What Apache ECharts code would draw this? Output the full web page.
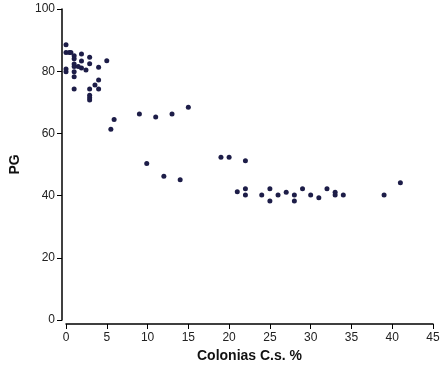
<!DOCTYPE html>
<html>
<head>
<meta charset="utf-8">
<script src="https://cdn.jsdelivr.net/npm/echarts@6/dist/echarts.min.js"></script>
<style>
  html, body { margin: 0; padding: 0; background: #fff; }
  #chart { width: 443px; height: 365px; }
</style>
</head>
<body>
<div id="chart"></div>
<script>
// colonias C.s. % (x) vs PG (y)
var colonias = [
    0, 0, 0.4, 0.6, 1, 1, 1.9, 2.9, 5, 1.9, 2.9, 1, 1, 0, 0, 1.5, 1.9, 2.45,
    1, 1, 4, 4, 3.55, 4, 2.9, 2.9, 2.9, 2.9, 1, 5.9, 5.5,
    9, 11, 13, 15, 9.9, 12, 14,
    19, 20, 22, 21, 22, 22, 24, 25, 25, 26, 27, 28, 28, 29, 30, 31, 32, 33, 33, 34, 39, 41
];
var pg = [
    88.5, 86, 86, 86, 85, 84, 85.5, 84.5, 83.4, 83.3, 82.4, 82.3, 81.5, 80.7, 79.8, 81.5, 81, 80.4,
    79.8, 78.2, 81.3, 77.2, 75.6, 74.3, 74.3, 72.3, 71.5, 70.7, 74.3, 64.5, 61.3,
    66.2, 65.3, 66.2, 68.4, 50.3, 46.2, 45.1,
    52.3, 52.3, 51.2, 41.2, 42.2, 40.2, 40.2, 42.2, 38.3, 40.2, 41.1, 40.2, 38.3, 42.2, 40.2, 39.3, 42.2, 41.1, 40.2, 40.2, 40.2, 44.1
];

var points = [];
for (var i = 0; i < colonias.length; i++) {
    points.push([colonias[i], pg[i]]);
}

var chartDom = document.getElementById('chart');
var myChart = echarts.init(chartDom);
var font = 'Liberation Sans, Arial, sans-serif';

var option = {
    animation: false,
    grid: { left: 66, right: 10, top: 9, bottom: 45, containLabel: false, outerBoundsMode: 'none' },
    xAxis: {
        type: 'value',
        min: 0,
        max: 45,
        interval: 5,
        offset: 4,
        name: 'Colonias C.s. %',
        nameLocation: 'middle',
        nameGap: 24,
        nameTextStyle: { fontFamily: font, fontSize: 14, fontWeight: 'bold', color: '#111' },
        axisLine: { show: true, onZero: false, lineStyle: { color: '#000', width: 1.5 } },
        axisTick: { show: true, length: 5, lineStyle: { color: '#000', width: 1 } },
        axisLabel: { fontFamily: font, fontSize: 12, color: '#222', margin: 8 },
        splitLine: { show: false }
    },
    yAxis: {
        type: 'value',
        min: 0,
        max: 100,
        interval: 20,
        offset: 4,
        name: 'PG',
        nameLocation: 'middle',
        nameGap: 40,
        nameTextStyle: { fontFamily: font, fontSize: 14, fontWeight: 'bold', color: '#111' },
        axisLine: { show: true, onZero: false, lineStyle: { color: '#000', width: 1.5 } },
        axisTick: { show: true, length: 5, lineStyle: { color: '#000', width: 1 } },
        axisLabel: { fontFamily: font, fontSize: 12, color: '#222', margin: 7 },
        splitLine: { show: false }
    },
    series: [{
        type: 'scatter',
        data: points,
        symbol: 'circle',
        symbolSize: 5,
        itemStyle: { color: '#1d1d48', opacity: 1 }
    }]
};

myChart.setOption(option);
</script>
</body>
</html>
